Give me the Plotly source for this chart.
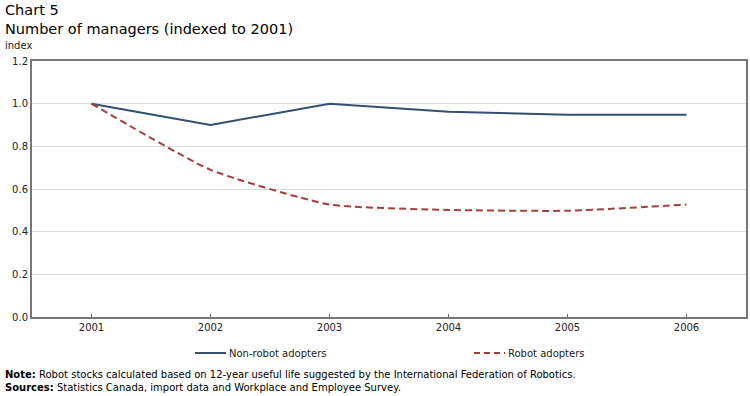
import plotly.graph_objects as go

years = ["2001", "2002", "2003", "2004", "2005", "2006"]
non_robot = [1.0, 0.90, 1.0, 0.962, 0.948, 0.948]
robot = [1.0, 0.690, 0.527, 0.502, 0.498, 0.527]
y_ticks = [0.0, 0.2, 0.4, 0.6, 0.8, 1.0, 1.2]
series_names = ["Non-robot adopters", "Robot adopters"]
colors = ["#34506e", "#a3403d"]

FONT = "DejaVu Sans"
L, R, T, B = 32, 4, 61, 79
W, H = 750, 396
PW, PH = W - L - R, H - T - B
DASH = "7px,4px"
LEG_DASH = "6px,4px"

def px(x):
    return (x - L) / PW

def py(y):
    return (H - B - y) / PH

fig = go.Figure()
fig.add_trace(go.Scatter(x=years, y=non_robot, mode="lines", name=series_names[0],
                         line=dict(color=colors[0], width=2)))
fig.add_trace(go.Scatter(x=years, y=robot, mode="lines", name=series_names[1],
                         line=dict(color=colors[1], width=2, dash=DASH, shape="spline", smoothing=0.5)))

fig.update_layout(
    width=W, height=H,
    margin=dict(l=L, r=R, t=T, b=B, autoexpand=False),
    paper_bgcolor="white", plot_bgcolor="white",
    font=dict(family=FONT, size=10, color="#222"),
    showlegend=False,
    xaxis=dict(type="category", range=[-0.5, 5.5], showgrid=False, ticks="inside",
               ticklen=3, tickcolor="#666", showline=True, linecolor="#777", linewidth=2,
               mirror=True, tickfont=dict(size=10, family=FONT), automargin=False),
    yaxis=dict(range=[0, 1.2], tickvals=y_ticks, tickformat=".1f", showgrid=True,
               gridcolor="#dcdcdc", showline=True, linecolor="#777", linewidth=2,
               mirror=True, ticks="", zeroline=False, tickfont=dict(size=10, family=FONT),
               automargin=False),
)

# legend drawn manually
leg_y = py(353)
for i, (x0, name) in enumerate(zip([195, 474], series_names)):
    fig.add_shape(type="line", xref="paper", yref="paper", x0=px(x0), x1=px(x0 + 31),
                  y0=leg_y, y1=leg_y,
                  line=dict(color=colors[i], width=2, dash="solid" if i == 0 else LEG_DASH))
    fig.add_annotation(text=name, xref="paper", yref="paper", x=px(x0 + 32), y=leg_y,
                       xanchor="left", yanchor="middle", showarrow=False,
                       font=dict(size=10, family=FONT, color="#222"))

fig.add_annotation(text="Chart 5<br>Number of managers (indexed to 2001)", xref="paper", yref="paper",
                   x=px(3), y=py(0), xanchor="left", yanchor="top", showarrow=False, align="left",
                   font=dict(size=14.5, family=FONT, color="#000"))
fig.add_annotation(text="index", xref="paper", yref="paper", x=px(3), y=py(45),
                   xanchor="left", yanchor="middle", showarrow=False, font=dict(size=10, family=FONT))
fig.add_annotation(text="<b>Note:</b> Robot stocks calculated based on 12-year useful life suggested by the International Federation of Robotics.<br><b>Sources:</b> Statistics Canada, import data and Workplace and Employee Survey.",
                   xref="paper", yref="paper", x=px(3), y=py(367), xanchor="left", yanchor="top",
                   showarrow=False, align="left", font=dict(size=10, family=FONT, color="#000"))

fig.write_html("out.html", config={"displayModeBar": False},
               post_script="document.body.style.margin='0px';")
